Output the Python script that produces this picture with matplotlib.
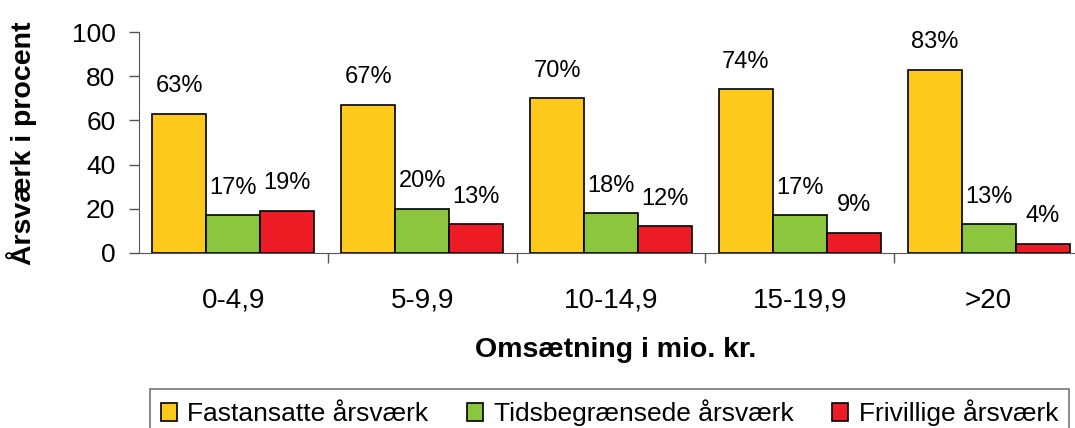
import matplotlib
matplotlib.use("Agg")
import matplotlib.pyplot as plt
import numpy as np
from matplotlib.patches import Patch

plt.rcParams["font.family"] = ["Liberation Sans", "DejaVu Sans"]

# Data
kategorier = ["0-4,9", "5-9,9", "10-14,9", "15-19,9", ">20"]
fastansatte = [63, 67, 70, 74, 83]
tidsbegraensede = [17, 20, 18, 17, 13]
frivillige = [19, 13, 12, 9, 4]

serier = ["Fastansatte årsværk", "Tidsbegrænsede årsværk", "Frivillige årsværk"]
farver = ["#FDC91B", "#8CC63F", "#ED1C24"]
vaerdier = [fastansatte, tidsbegraensede, frivillige]

fig = plt.figure(figsize=(10.75, 4.28), dpi=100)
ax = fig.add_axes([139 / 1075, 1 - 253 / 428, (1083 - 139) / 1075, (253 - 32) / 428])

x = np.arange(len(kategorier))
bredde = 0.286

for i, (navn, farve, v) in enumerate(zip(serier, farver, vaerdier)):
    pos = x + (i - 1) * bredde
    ax.bar(pos, v, width=bredde, color=farve, edgecolor="black", linewidth=1.2, label=navn)
    for px, val in zip(pos, v):
        ax.annotate(f"{val}%", (px, val), xytext=(0, 12), textcoords="offset points",
                    ha="center", va="bottom", fontsize=17)

ax.set_xlim(-0.5, len(kategorier) - 0.5)
ax.set_ylim(0, 100)
ax.set_yticks(range(0, 101, 20))
ax.set_xticks(x)
ax.set_xticklabels(kategorier)
ax.set_xticks(np.arange(0.5, len(kategorier) - 0.5, 1), minor=True)
ax.tick_params(axis="x", which="major", length=0, pad=25, labelsize=20)
ax.tick_params(axis="x", which="minor", length=7, width=1, color="#555555")
ax.tick_params(axis="y", length=7, width=1, color="#555555", pad=10, labelsize=19)

for side in ["top", "right"]:
    ax.spines[side].set_visible(False)
ax.spines["left"].set_color("#555555")
ax.spines["bottom"].set_color("#555555")

fig.text(22 / 1075, 1 - 143 / 428, "Årsværk i procent", rotation=90, ha="center", va="center",
         fontsize=20.5, fontweight="bold")
fig.text(616 / 1075, 1 - 357 / 428, "Omsætning i mio. kr.", ha="center", va="baseline",
         fontsize=20.5, fontweight="bold")

handles = [Patch(facecolor=f, edgecolor="black", linewidth=1.2) for f in farver]
leg = fig.legend(handles, serier, loc="upper left", bbox_to_anchor=(150 / 1075, 1 - 389 / 428),
                 ncol=3, fontsize=19, frameon=True, fancybox=False, handlelength=0.62,
                 handleheight=0.62, handletextpad=0.4, columnspacing=1.45, borderpad=0.4,
                 borderaxespad=0)
leg.get_frame().set_edgecolor("#555555")
leg.get_frame().set_linewidth(1.2)

fig.savefig("out.png", dpi=100)
